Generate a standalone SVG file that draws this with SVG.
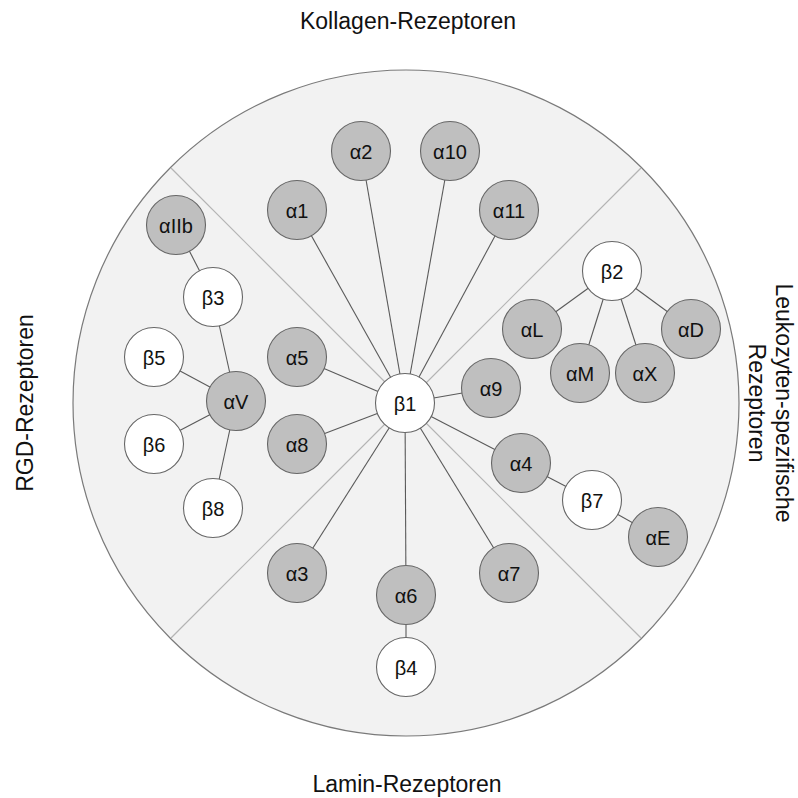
<svg xmlns="http://www.w3.org/2000/svg" width="798" height="798" viewBox="0 0 798 798">
<style>
.bg{fill:#f2f2f2;stroke:#7a7a7a;stroke-width:1.2}
.div{stroke:#b4b4b4;stroke-width:1.2;fill:none}
.e{stroke:#5a5a5a;stroke-width:1.1;fill:none}
.a circle{fill:#bfbfbf;stroke:#666;stroke-width:1.1}
.b circle{fill:#fff;stroke:#666;stroke-width:1.1}
.n text{font-family:"Liberation Sans",Arial,sans-serif;font-size:20px;fill:#111;text-anchor:middle;dominant-baseline:central}
.lbl{font-family:"Liberation Sans",Arial,sans-serif;font-size:23px;fill:#111;text-anchor:middle}
</style>
<rect width="798" height="798" fill="#fff"/>
<circle class="bg" cx="406" cy="403" r="333"/>
<g id="dividers">
<line class="div" x1="171" y1="168" x2="406" y2="403"/>
<line class="div" x1="641" y1="168" x2="406" y2="403"/>
<line class="div" x1="171" y1="638" x2="406" y2="403"/>
<line class="div" x1="641" y1="638" x2="406" y2="403"/>
</g>
<text class="lbl" x="408" y="29">Kollagen-Rezeptoren</text>
<text class="lbl" x="407" y="792">Lamin-Rezeptoren</text>
<text class="lbl" transform="translate(33,403) rotate(-90)">RGD-Rezeptoren</text>
<text class="lbl" transform="translate(776,403) rotate(90)">Leukozyten-spezifische</text>
<text class="lbl" transform="translate(749,403) rotate(90)">Rezeptoren</text>
<g id="connectors">
<line class="e" x1="405" y1="403" x2="297" y2="210"/>
<line class="e" x1="405" y1="403" x2="361" y2="151"/>
<line class="e" x1="405" y1="403" x2="450" y2="151"/>
<line class="e" x1="405" y1="403" x2="509" y2="210"/>
<line class="e" x1="405" y1="403" x2="297" y2="357"/>
<line class="e" x1="405" y1="403" x2="491" y2="388"/>
<line class="e" x1="405" y1="403" x2="297" y2="444"/>
<line class="e" x1="405" y1="403" x2="521" y2="463"/>
<line class="e" x1="405" y1="403" x2="297" y2="573"/>
<line class="e" x1="405" y1="403" x2="406" y2="595"/>
<line class="e" x1="405" y1="403" x2="509" y2="573"/>
<line class="e" x1="406" y1="595" x2="406" y2="667"/>
<line class="e" x1="176" y1="225" x2="213" y2="297"/>
<line class="e" x1="213" y1="297" x2="236" y2="401"/>
<line class="e" x1="154" y1="357" x2="236" y2="401"/>
<line class="e" x1="154" y1="444" x2="236" y2="401"/>
<line class="e" x1="236" y1="401" x2="213" y2="508"/>
<line class="e" x1="612" y1="271" x2="532" y2="329"/>
<line class="e" x1="612" y1="271" x2="580" y2="373"/>
<line class="e" x1="612" y1="271" x2="645" y2="373"/>
<line class="e" x1="612" y1="271" x2="691" y2="329"/>
<line class="e" x1="521" y1="463" x2="592" y2="500"/>
<line class="e" x1="592" y1="500" x2="658" y2="537"/>
</g>
<g id="b1" class="n b"><circle cx="405" cy="403" r="29.5"/><text x="405" y="404">β1</text></g>
<g id="a1" class="n a"><circle cx="297" cy="210" r="29.5"/><text x="297" y="211">α1</text></g>
<g id="a2" class="n a"><circle cx="361" cy="151" r="29.5"/><text x="361" y="152">α2</text></g>
<g id="a10" class="n a"><circle cx="450" cy="151" r="29.5"/><text x="450" y="152">α10</text></g>
<g id="a11" class="n a"><circle cx="509" cy="210" r="29.5"/><text x="509" y="211">α11</text></g>
<g id="a5" class="n a"><circle cx="297" cy="357" r="29.5"/><text x="297" y="358">α5</text></g>
<g id="a9" class="n a"><circle cx="491" cy="388" r="29.5"/><text x="491" y="389">α9</text></g>
<g id="a8" class="n a"><circle cx="297" cy="444" r="29.5"/><text x="297" y="445">α8</text></g>
<g id="a4" class="n a"><circle cx="521" cy="463" r="29.5"/><text x="521" y="464">α4</text></g>
<g id="a3" class="n a"><circle cx="297" cy="573" r="29.5"/><text x="297" y="574">α3</text></g>
<g id="a6" class="n a"><circle cx="406" cy="595" r="29.5"/><text x="406" y="596">α6</text></g>
<g id="a7" class="n a"><circle cx="509" cy="573" r="29.5"/><text x="509" y="574">α7</text></g>
<g id="b4" class="n b"><circle cx="406" cy="667" r="29.5"/><text x="406" y="668">β4</text></g>
<g id="aIIb" class="n a"><circle cx="176" cy="225" r="29.5"/><text x="176" y="226">αIIb</text></g>
<g id="b3" class="n b"><circle cx="213" cy="297" r="29.5"/><text x="213" y="298">β3</text></g>
<g id="b5" class="n b"><circle cx="154" cy="357" r="29.5"/><text x="154" y="358">β5</text></g>
<g id="aV" class="n a"><circle cx="236" cy="401" r="29.5"/><text x="236" y="402">αV</text></g>
<g id="b6" class="n b"><circle cx="154" cy="444" r="29.5"/><text x="154" y="445">β6</text></g>
<g id="b8" class="n b"><circle cx="213" cy="508" r="29.5"/><text x="213" y="509">β8</text></g>
<g id="b2" class="n b"><circle cx="612" cy="271" r="29.5"/><text x="612" y="272">β2</text></g>
<g id="aL" class="n a"><circle cx="532" cy="329" r="29.5"/><text x="532" y="330">αL</text></g>
<g id="aM" class="n a"><circle cx="580" cy="373" r="29.5"/><text x="580" y="374">αM</text></g>
<g id="aX" class="n a"><circle cx="645" cy="373" r="29.5"/><text x="645" y="374">αX</text></g>
<g id="aD" class="n a"><circle cx="691" cy="329" r="29.5"/><text x="691" y="330">αD</text></g>
<g id="b7" class="n b"><circle cx="592" cy="500" r="29.5"/><text x="592" y="501">β7</text></g>
<g id="aE" class="n a"><circle cx="658" cy="537" r="29.5"/><text x="658" y="538">αE</text></g>
</svg>
